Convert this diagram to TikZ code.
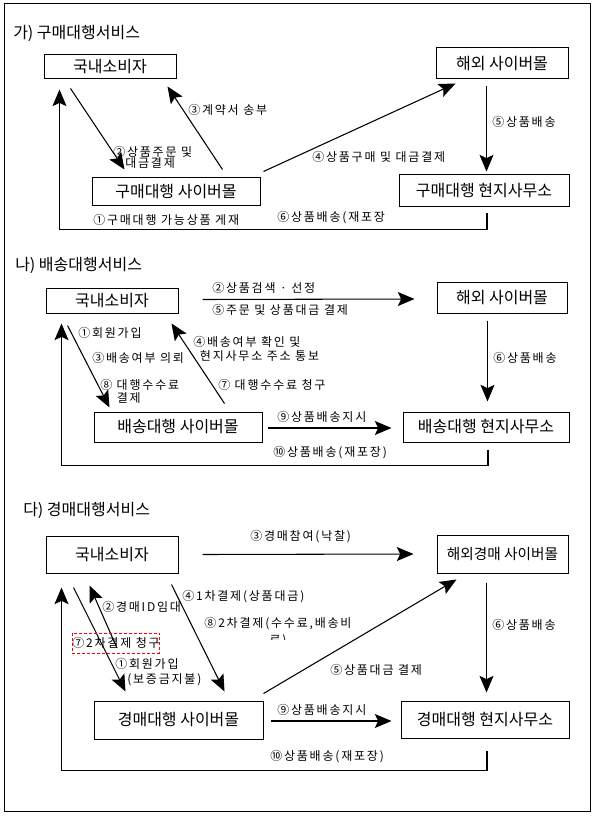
\documentclass[tikz,border=0pt]{standalone}
\usepackage{fontspec}
\setmainfont{Noto Sans CJK KR}
\newfontfamily\lblfont[LetterSpace=15]{Noto Sans CJK KR}
\usetikzlibrary{arrows.meta,calc}

\begin{document}
\begin{tikzpicture}[x=0.75pt,y=-0.75pt,
    wh/.style 2 args={minimum width=#1*0.75pt, minimum height=#2*0.75pt},
    box/.style={draw, line width=0.75pt, inner sep=0pt, font=\fontsize{12pt}{14pt}\selectfont},
    ttl/.style={anchor=west, inner sep=0pt, font=\fontsize{12pt}{14pt}\selectfont},
    lbl/.style={anchor=west, inner sep=0pt, font=\lblfont\fontsize{9pt}{10pt}\selectfont},
    arr/.style={line width=0.8pt, -{Stealth[length=12.5pt,width=10.5pt,inset=2.5pt]}}]
    \useasboundingbox (0,0) rectangle (598,816);
    \draw[line width=0.75pt] (4,4) rectangle (590,811);

    % 가) 구매대행서비스
    \node (a_ttl) at (13,33) [ttl] {가) 구매대행서비스};
    \node (a_cons) at (110,67) [box, wh={132}{24}] {국내소비자};
    \node (a_mall) at (502,63.5) [box, wh={132}{31}] {해외 사이버몰};
    \node (a_agent) at (176,192) [box, wh={168}{28}] {구매대행 사이버몰};
    \node (a_office) at (484,191) [box, wh={170}{32}] {구매대행 현지사무소};

    \draw[arr] ($(a_cons.south west)+(27,9)$) -- ($(a_agent.north west)+(33,-8)$);
    \draw[arr] ($(a_agent.north west)+(131,-8)$) -- ($(a_cons.south west)+(124,7)$);
    \draw[arr] ($(a_agent.north east)+(3,-6)$) -- ($(a_mall.south west)+(20,4)$);
    \draw[arr] ($(a_mall.south west)+(51,7)$) -- ($(a_office.north west)+(88,-3)$);
    \draw[arr] ($(a_office.south)+(3,6)$) |- ($(a_cons.south west)+(16,150)$) -- ($(a_cons.south west)+(16,10)$);

    \node (a_l1) at (93,220) [lbl] {①구매대행 가능상품 게재};
    \node (a_l2) at (113,157.5) [lbl, align=left] {②상품주문 및\\[-1.7pt]\phantom{②}대금결제};
    \node (a_l3) at (188,110) [lbl] {③계약서 송부};
    \node (a_l4) at (312,157) [lbl] {④상품구매 및 대금결제};
    \node (a_l5) at (492,122) [lbl] {⑤상품배송};
    \node (a_l6) at (277,218) [lbl] {⑥상품배송(재포장};

    % 나) 배송대행서비스
    \node (b_ttl) at (15,265) [ttl] {나) 배송대행서비스};
    \node (b_cons) at (112,300.5) [box, wh={132}{25}] {국내소비자};
    \node (b_mall) at (502,298) [box, wh={130}{30}] {해외 사이버몰};
    \node (b_agent) at (178,427) [box, wh={168}{30}] {배송대행 사이버몰};
    \node (b_office) at (486,427) [box, wh={166}{30}] {배송대행 현지사무소};

    \draw[arr] ($(b_cons.east)+(24,-1)$) -- ($(b_mall.west)+(-22,1)$);
    \draw[arr] ($(b_mall.south west)+(51,7)$) -- ($(b_office.north west)+(85,-10)$);
    \draw[arr] ($(b_cons.south west)+(22,12)$) -- ($(b_agent.north west)+(16,-4)$);
    \draw[arr] ($(b_agent.north west)+(131,-8)$) -- ($(b_cons.south west)+(126,10)$);
    \draw[arr] ($(b_agent.east)+(5,1)$) -- ($(b_office.west)+(-11,1)$);
    \draw[arr] ($(b_office.south)+(2,7)$) |- ($(b_cons.south west)+(16,152)$) -- ($(b_cons.south west)+(16,10)$);

    \node (b_l1) at (78,333) [lbl] {①회원가입};
    \node (b_l2) at (212,288) [lbl] {②상품검색 · 선정};
    \node (b_l3) at (92,358) [lbl] {③배송여부 의뢰};
    \node (b_l4) at (193,349) [lbl, align=left] {④배송여부 확인 및\\[0.5pt]\hspace*{5pt}현지사무소 주소 통보};
    \node (b_l5) at (212,310) [lbl] {⑤주문 및 상품대금 결제};
    \node (b_l6) at (493,358) [lbl] {⑥상품배송};
    \node (b_l7) at (218,385) [lbl] {⑦ 대행수수료 청구};
    \node (b_l8) at (100,391.5) [lbl, align=left] {⑧ 대행수수료\\\phantom{⑧ }결제};
    \node (b_l9) at (277,417) [lbl] {⑨상품배송지시};
    \node (b_l10) at (273,453) [lbl] {⑩상품배송(재포장)};

    % 다) 경매대행서비스
    \node (c_ttl) at (23,510) [ttl] {다) 경매대행서비스};
    \node (c_cons) at (112,554.5) [box, wh={132}{37}] {국내소비자};
    \node (c_mall) at (502.5,554) [box, wh={131}{38}, font=\fontsize{11pt}{13pt}\selectfont] {해외경매 사이버몰};
    \node (c_agent) at (178.5,720) [box, wh={169}{38}] {경매대행 사이버몰};
    \node (c_office) at (485,719.5) [box, wh={168}{37}] {경매대행 현지사무소};
    \coordinate (c_id) at (117,648);

    \draw[arr] ($(c_cons.east)+(24,0)$) -- ($(c_mall.west)+(-23,0)$);
    \draw[arr] ($(c_mall.south west)+(50,9)$) -- ($(c_office.north west)+(86,-8)$);
    \draw[arr] ($(c_agent.north east)+(0,-7)$) -- ($(c_mall.south west)+(20,6)$);
    \draw[arr] ($(c_agent.east)+(7,1)$) -- ($(c_office.west)+(-9,1.5)$);
    \draw[arr] ($(c_office.south)+(2,12)$) |- ($(c_cons.south west)+(16,197)$) -- ($(c_cons.south west)+(16,14)$);
    \draw[arr] ($(c_cons.south west)+(28,14)$) -- ($(c_agent.north west)+(32,-9)$);
    \draw[arr] (c_id) -- ($(c_cons.south west)+(44,12)$);
    \draw[arr] ($(c_cons.south west)+(126,11)$) -- ($(c_agent.north west)+(131,-9)$);

    \node (c_l1) at (115,672.5) [lbl, align=left] {①회원가입\\[1.25pt]\phantom{①}(보증금지불)};
    \node (c_l2) at (102,607) [lbl] {②경매ID임대};
    \node (c_l3) at (250,537) [lbl] {③경매참여(낙찰)};
    \node (c_l4) at (182,597) [lbl] {④1차결제(상품대금)};
    \node (c_l5) at (330,670) [lbl] {⑤상품대금 결제};
    \node (c_l6) at (492,625) [lbl] {⑥상품배송};
    \node (c_l7) at (116,643) [lbl, anchor=center, draw=red, line width=0.75pt,
        dash pattern=on 2.25pt off 1.5pt, wh={86}{20}] {⑦2차결제 청구};
    \begin{scope}
        \clip (200,612) rectangle (370,639);
        \node (c_l8) at (278,632.5) [lbl, anchor=center, align=center] {⑧2차결제(수수료,배송비\\[2.75pt]료)};
    \end{scope}
    \node (c_l9) at (277,710) [lbl] {⑨상품배송지시};
    \node (c_l10) at (270,757) [lbl] {⑩상품배송(재포장)};
\end{tikzpicture}
\end{document}
